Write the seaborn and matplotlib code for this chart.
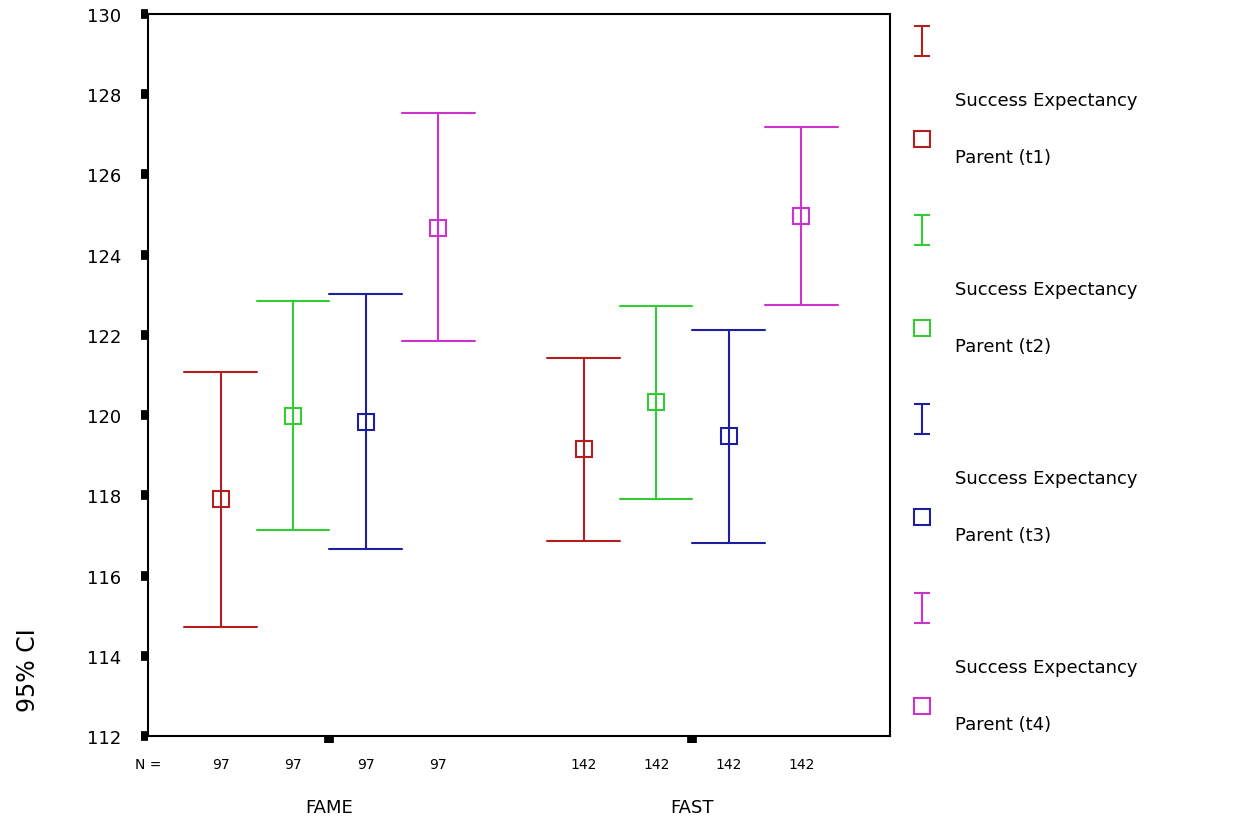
import pandas as pd
import matplotlib
matplotlib.use("Agg")
import matplotlib.pyplot as plt
import seaborn as sns

# 数据（从图上读取的均值和95%置信区间）
groups = ["FAME", "FAST"]
series = ["Success Expectancy Parent (t1)", "Success Expectancy Parent (t2)",
          "Success Expectancy Parent (t3)", "Success Expectancy Parent (t4)"]
short_names = ["t1", "t2", "t3", "t4"]
colors = ["#B41E1E", "#33CC33", "#1E1EA0", "#CC33CC"]

mean_fame = [117.90, 119.98, 119.83, 124.66]
low_fame = [114.71, 117.13, 116.66, 121.85]
high_fame = [121.07, 122.84, 123.02, 127.53]

mean_fast = [119.15, 120.32, 119.48, 124.96]
low_fast = [116.86, 117.90, 116.81, 122.74]
high_fast = [121.42, 122.72, 122.12, 127.18]

n_per_group = [97, 142]
y_ticks = [112, 114, 116, 118, 120, 122, 124, 126, 128, 130]

# 长表：每个组合三行（下限、均值、上限），median + 100%区间正好还原均值和CI
rows = []
for g, means, lows, highs in [("FAME", mean_fame, low_fame, high_fame),
                              ("FAST", mean_fast, low_fast, high_fast)]:
    for s, m, lo, hi in zip(series, means, lows, highs):
        for v in (lo, m, hi):
            rows.append({"group": g, "series": s, "value": v})
df = pd.DataFrame(rows)

sns.set_theme(style="ticks")
plt.rcParams["font.family"] = ["DejaVu Sans"]
plt.rcParams["text.color"] = "black"
plt.rcParams["xtick.labelcolor"] = "black"
plt.rcParams["ytick.labelcolor"] = "black"
plt.rcParams["axes.labelcolor"] = "black"

fig = plt.figure(figsize=(12.43, 8.2), dpi=100)
ax = fig.add_axes([0.119, 0.101, 0.597, 0.881])

dodge = 0.6
sns.pointplot(data=df, x="group", y="value", hue="series", order=groups,
              hue_order=series, palette=colors, estimator="median",
              errorbar=("pi", 100), dodge=dodge, linestyle="none",
              markers="s", markersize=12, markerfacecolor="none",
              markeredgewidth=1.5, capsize=0.2,
              err_kws={"linewidth": 1.5}, legend=False, ax=ax)

ax.set_xlim(-0.5, 1.544)
ax.set_ylim(112, 130)
ax.set_yticks(y_ticks)
ax.set_yticklabels([str(t) for t in y_ticks], fontsize=13)
ax.set_xticks([0, 1])
ax.set_xticklabels(["", ""])
ax.tick_params(axis="both", direction="out", length=5, width=7, color="black")
ax.tick_params(axis="y", pad=14)
for sp in ax.spines.values():
    sp.set_visible(True)
    sp.set_linewidth(1.5)
    sp.set_color("black")

ax.set_xlabel("")
ax.set_ylabel("95% CI", fontsize=17)
ax.yaxis.set_label_coords(-0.146, 0.093)

# N 行和分组标签
trans = ax.get_xaxis_transform()
ax.text(-0.5, -0.039, "N =", transform=trans, ha="center", va="center", fontsize=10)
step = dodge / (len(series) - 1)
for gi, (g, n) in enumerate(zip(groups, n_per_group)):
    for si in range(len(series)):
        xpos = gi - dodge / 2 + step * si
        ax.text(xpos, -0.039, str(n), transform=trans, ha="center", va="center", fontsize=10)
    ax.text(gi, -0.098, g, transform=trans, ha="center", va="center", fontsize=13)

# 右侧图例（手工排版）
lax = fig.add_axes([0, 0, 1, 1])
lax.set_xlim(0, 1243)
lax.set_ylim(820, 0)
lax.axis("off")
for i, (c, nm) in enumerate(zip(colors, short_names)):
    y0 = 42 + 189 * i
    lax.errorbar([922], [y0], yerr=[[15], [15]], color=c, capsize=6, lw=1.5,
                 capthick=1.5, fmt="none")
    lax.text(955, y0 + 59, "Success Expectancy", fontsize=13, va="center", ha="left")
    lax.plot([922], [y0 + 98], marker="s", markersize=12, markerfacecolor="none",
             markeredgecolor=c, markeredgewidth=1.5, linestyle="none")
    lax.text(955, y0 + 116, f"Parent ({nm})", fontsize=13, va="center", ha="left")

fig.savefig("out.png", dpi=100)
